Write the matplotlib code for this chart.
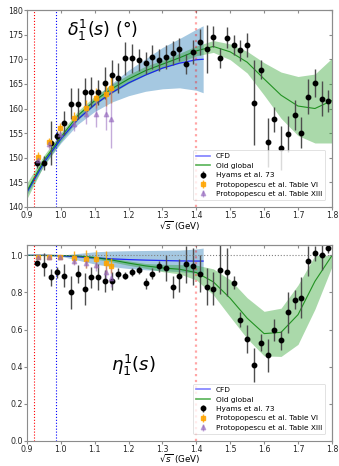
import numpy as np
import matplotlib
matplotlib.use('Agg')
import matplotlib.pyplot as plt
import matplotlib.lines as mlines

# ---- curves (sampled every 0.05 GeV) ----
x_grid = [0.90, 0.95, 1.00, 1.05, 1.10, 1.15, 1.20, 1.25, 1.30, 1.35, 1.40,
          1.45, 1.50, 1.55, 1.60, 1.65, 1.70, 1.75, 1.80]
x_cfd = [0.90, 0.95, 1.00, 1.05, 1.10, 1.15, 1.20, 1.25, 1.30, 1.35, 1.40, 1.42]

# phase delta
delta_cfd = [143.0, 149.0, 153.8, 157.8, 160.8, 163.2, 165.2, 166.8, 168.2, 169.2, 169.9, 170.0]
delta_cfd_err = [0.5, 0.6, 0.8, 1.0, 1.4, 1.9, 2.6, 3.3, 4.2, 5.0, 6.2, 6.8]
delta_old = [143.3, 149.5, 154.2, 158.6, 161.6, 164.0, 166.0, 167.7, 169.0, 170.3, 171.7,
             172.6, 171.5, 169.4, 166.0, 162.7, 160.5, 160.0, 161.6]
delta_old_err = [1.6, 1.0, 0.9, 0.9, 0.9, 0.9, 0.9, 0.9, 0.8, 0.9, 1.0,
                 1.2, 1.6, 2.2, 3.3, 4.7, 6.0, 7.0, 8.6]

# inelasticity eta
eta_cfd = [1.0, 1.0, 0.998, 0.992, 0.986, 0.981, 0.977, 0.974, 0.972, 0.970, 0.969, 0.969]
eta_cfd_err = [0.0, 0.001, 0.003, 0.018, 0.033, 0.042, 0.048, 0.052, 0.055, 0.058, 0.065, 0.07]
eta_old = [1.0, 1.0, 0.999, 0.997, 0.988, 0.975, 0.958, 0.943, 0.932, 0.925, 0.907,
           0.857, 0.768, 0.661, 0.578, 0.585, 0.68, 0.86, 0.998]
eta_old_err = [0.0, 0.002, 0.004, 0.006, 0.008, 0.01, 0.012, 0.013, 0.02, 0.025, 0.04,
               0.07, 0.1, 0.11, 0.12, 0.13, 0.16, 0.15, 0.06]

# ---- Hyams et al. 73 ----
x_hy = [0.93, 0.95, 0.97, 0.99, 1.01, 1.03, 1.05, 1.07, 1.09, 1.11, 1.13, 1.15, 1.17,
        1.19, 1.21, 1.23, 1.25, 1.27, 1.29, 1.31, 1.33, 1.35, 1.37, 1.39, 1.41, 1.43,
        1.45, 1.47, 1.49, 1.51, 1.53, 1.55, 1.57, 1.59, 1.61, 1.63, 1.65, 1.67, 1.69,
        1.71, 1.73, 1.75, 1.77, 1.79]
delta_hy = [149.0, 149.0, 153.0, 154.5, 157.1, 161.0, 161.0, 163.3, 163.3, 163.3, 165.2,
            166.9, 166.2, 170.2, 170.2, 169.9, 169.3, 170.5, 169.9, 170.5, 171.3, 172.0,
            169.1, 171.5, 173.5, 172.1, 174.6, 170.2, 174.4, 172.9, 171.8, 172.9, 161.2,
            167.9, 153.1, 157.8, 152.0, 154.8, 158.7, 155.1, 162.4, 165.2, 162.0, 161.5]
delta_hy_err = [1.0, 1.4, 4.4, 1.0, 2.4, 3.2, 3.2, 2.9, 3.0, 2.5, 3.2, 3.0, 3.0, 3.4,
                2.9, 2.2, 2.2, 2.4, 2.2, 2.4, 2.5, 2.4, 2.0, 2.4, 2.7, 4.9, 2.2, 2.0,
                2.2, 2.0, 2.2, 2.4, 8.6, 2.0, 4.9, 2.5, 4.4, 3.7, 3.0, 3.2, 3.5, 2.9,
                3.5, 2.2]
eta_hy = [0.959, 0.950, 0.881, 0.909, 0.891, 0.800, 0.900, 0.818, 0.881, 0.881, 0.861,
          0.861, 0.900, 0.891, 0.909, 0.920, 0.850, 0.900, 0.941, 0.930, 0.830, 0.891,
          0.952, 0.941, 0.902, 0.830, 0.821, 0.923, 0.911, 0.852, 0.652, 0.550, 0.409,
          0.530, 0.461, 0.598, 0.541, 0.693, 0.761, 0.771, 0.969, 1.011, 1.000, 1.041]
eta_hy_err = [0.015, 0.06, 0.045, 0.03, 0.06, 0.09, 0.05, 0.085, 0.055, 0.07, 0.06,
              0.05, 0.03, 0.02, 0.02, 0.02, 0.03, 0.03, 0.03, 0.07, 0.06, 0.09, 0.1,
              0.1, 0.1, 0.1, 0.09, 0.13, 0.13, 0.035, 0.04, 0.075, 0.09, 0.045, 0.09,
              0.06, 0.05, 0.11, 0.05, 0.11, 0.08, 0.04, 0.08, 0.03]

# ---- Protopopescu et al. ----
x_pr = [0.933, 0.965, 0.997, 1.039, 1.074, 1.103, 1.134, 1.148]
delta_t6 = [150.1, 153.1, 156.0, 158.1, 160.2, 162.1, 163.0, 164.1]
delta_t6_err = [1.0, 1.0, 1.0, 1.2, 1.5, 2.0, 2.5, 3.0]
delta_t13 = [149.6, 152.7, 154.9, 156.9, 158.9, 158.9, 158.9, 157.9]
delta_t13_err = [1.0, 1.0, 1.0, 1.5, 2.0, 2.7, 3.2, 6.0]
eta_t6 = [0.991, 0.991, 0.991, 0.988, 0.979, 0.981, 0.961, 0.944]
eta_t6_err = [0.01, 0.01, 0.01, 0.035, 0.05, 0.05, 0.06, 0.04]
eta_t13 = [0.99, 0.99, 0.99, 0.969, 0.961, 0.95, 0.91, 0.88]
eta_t13_err = [0.01, 0.01, 0.01, 0.02, 0.03, 0.035, 0.035, 0.05]

x_piomega = 0.921   # pi-omega threshold
x_kk = 0.987        # 2 m_K
x_match = 1.4

fig = plt.figure(figsize=(3.39, 4.66), dpi=100)
ax1 = fig.add_axes([0.0796, 0.5558, 0.8994, 0.4227])
ax2 = fig.add_axes([0.0796, 0.0540, 0.8994, 0.4200])

GRAY = '0.55'


def draw_panel(ax, yc, yce, yo, yoe, yh, yhe, y6, y6e, y13, y13e, clip_top=None):
    xc = np.array(x_cfd)
    xg = np.array(x_grid)
    yc = np.array(yc); yce = np.array(yce)
    yo = np.array(yo); yoe = np.array(yoe)
    up_o = yo + yoe
    if clip_top is not None:
        up_o = np.minimum(up_o, clip_top)
    ax.fill_between(xc, yc - yce, yc + yce, color='tab:blue', alpha=0.4, lw=0)
    ax.fill_between(xg, yo - yoe, up_o, color='tab:green', alpha=0.4, lw=0)
    ax.plot(xc, yc, color='blue', lw=0.9, alpha=0.8)
    ax.plot(xg, yo, color='green', lw=0.8, alpha=0.8)

    ax.errorbar(x_hy, yh, yerr=yhe, fmt='o', color='k', ms=3.2, ecolor='0.3',
                elinewidth=1.0, label='Hyams et al. 73')
    ax.errorbar(x_pr, y6, yerr=y6e, fmt='s', color='orange', ms=3.2, ecolor='orange',
                elinewidth=1.0, alpha=0.85, label='Protopopescu et al. Table VI')
    ax.errorbar(x_pr, y13, yerr=y13e, fmt='^', color='tab:purple', ms=3.2,
                ecolor='tab:purple', elinewidth=1.0, alpha=0.55,
                label='Protopopescu et al. Table XIII')

    ax.axvline(x_piomega, color='red', ls=':', lw=0.8)
    ax.axvline(x_kk, color='blue', ls=':', lw=0.8)
    ax.axvline(x_match, color='red', ls=':', lw=1.6, alpha=0.35)

    ax.set_xlim(0.9, 1.8)
    ax.set_xticks(np.arange(0.9, 1.81, 0.1))
    ax.set_xlabel(r'$\sqrt{s}$ (GeV)', fontsize=6.3, va='top')
    ax.xaxis.set_label_coords(0.5, -0.062)
    for sp in ax.spines.values():
        sp.set_color(GRAY)
    ax.tick_params(labelsize=5.7, color=GRAY, length=2.2, pad=0.6, labelcolor='0.15')
    # inward ticks on top
    top = ax.secondary_xaxis('top')
    top.set_xticks(np.arange(0.9, 1.81, 0.1))
    top.tick_params(direction='in', labeltop=False, color=GRAY, length=2.5)
    top.spines['top'].set_color(GRAY)

    h, l = ax.get_legend_handles_labels()
    hc = mlines.Line2D([], [], color='blue', alpha=0.5, lw=1.2)
    ho = mlines.Line2D([], [], color='tab:green', alpha=0.8, lw=1.2)
    leg = ax.legend([hc, ho] + h, ['CFD', 'Old global'] + l, loc='lower right',
                    fontsize=5.3, frameon=True, handlelength=1.8, borderpad=0.45,
                    labelspacing=0.45, bbox_to_anchor=(0.99, 0.015))
    leg.get_frame().set_linewidth(0.5)


def right_ticks(ax, ticks):
    r = ax.secondary_yaxis('right')
    r.set_yticks(ticks)
    r.tick_params(direction='in', labelright=False, color=GRAY, length=2.5)
    r.spines['right'].set_color(GRAY)


draw_panel(ax1, delta_cfd, delta_cfd_err, delta_old, delta_old_err,
           delta_hy, delta_hy_err, delta_t6, delta_t6_err, delta_t13, delta_t13_err)
ax1.set_ylim(140, 180)
ax1.set_yticks(np.arange(140, 181, 5))
right_ticks(ax1, np.arange(140, 181, 5))
ax1.text(1.018, 174.8, r'$\delta_1^1(s)$ (°)', fontsize=12.5)

draw_panel(ax2, eta_cfd, eta_cfd_err, eta_old, eta_old_err,
           eta_hy, eta_hy_err, eta_t6, eta_t6_err, eta_t13, eta_t13_err, clip_top=1.0)
ax2.axhline(1.0, color='0.5', ls=':', lw=0.8)
ax2.set_ylim(0, 1.055)
ax2.set_yticks(np.arange(0, 1.01, 0.2))
ax2.set_yticklabels(['0.0', '0.2', '0.4', '0.6', '0.8', '1.0'])
right_ticks(ax2, np.arange(0, 1.01, 0.2))
ax2.text(1.148, 0.375, r'$\eta_1^1(s)$', fontsize=13)

fig.savefig('out.png', dpi=100)
